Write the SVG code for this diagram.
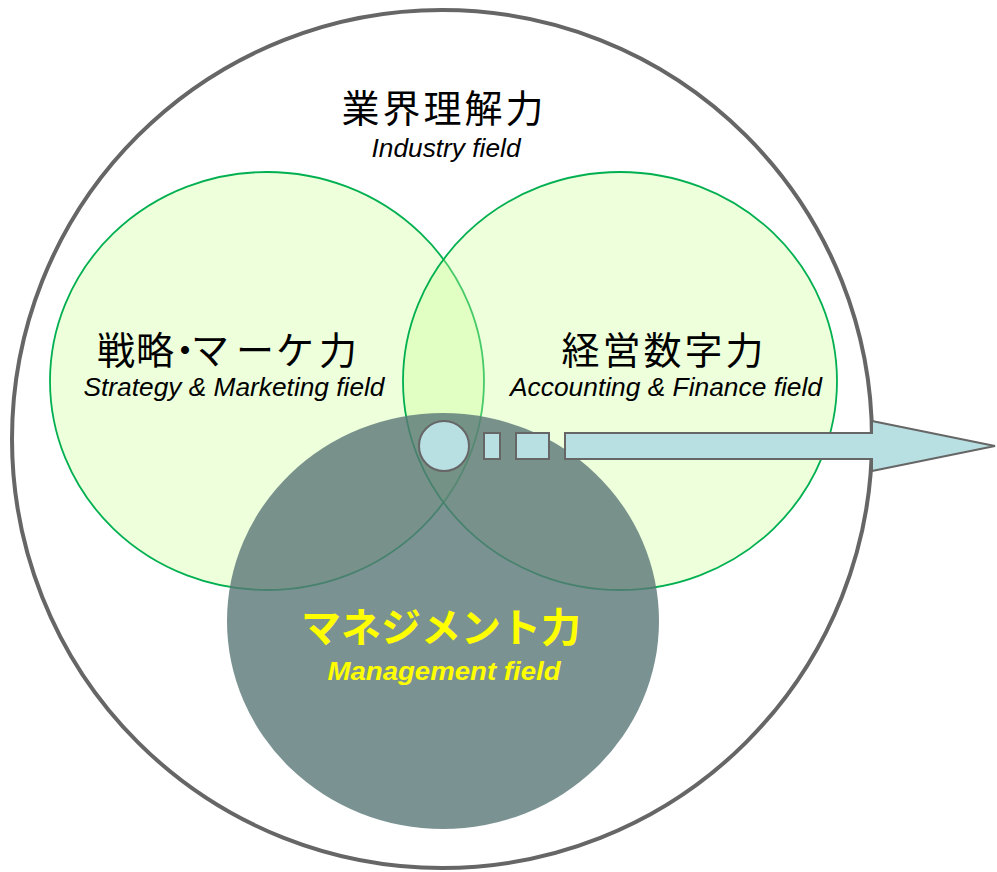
<svg xmlns="http://www.w3.org/2000/svg" width="997" height="872" viewBox="0 0 997 872">
<style>
.field{fill:#CCFF99;fill-opacity:0.35;stroke:#00B050;stroke-width:1.8}
.jp{font-family:"Noto Sans CJK JP","Noto Sans",sans-serif;text-anchor:middle;fill:#000}
.en{font-family:"Liberation Sans",Arial,sans-serif;font-style:italic;text-anchor:middle;fill:#000}
.yl{fill:#FFFF00;font-weight:bold}
.blue{fill:#B8DFE2;stroke:#666;stroke-width:2}
</style>
<rect width="997" height="872" fill="#fff"/>
<g id="industry">
<ellipse cx="442" cy="439" rx="430" ry="429" fill="#fff" stroke="#666" stroke-width="4"/>
<text class="jp" x="444" y="122" font-size="38" letter-spacing="3">業界理解力</text>
<text class="en" x="446" y="157" font-size="26" textLength="149" lengthAdjust="spacingAndGlyphs">Industry field</text>
</g>
<g id="strategy">
<ellipse class="field" cx="267" cy="381" rx="217" ry="209"/>
</g>
<g id="accounting">
<ellipse class="field" cx="620" cy="381" rx="217" ry="209"/>
</g>
<g id="management">
<ellipse cx="443" cy="621" rx="216" ry="208" fill="#5A7777" fill-opacity="0.8"/>
</g>
<g id="connectors">
<ellipse class="blue" cx="444" cy="446" rx="25" ry="25"/>
<rect class="blue" x="484" y="433" width="16" height="26"/>
<rect class="blue" x="516" y="433" width="33" height="26"/>
<path class="blue" d="M565,433 H872 V421 L995,446 L872,471 V459 H565 Z"/>
</g>
<g id="labels">
<text class="jp" style="text-anchor:start" x="97 136 166 191 236 276 319" y="364" font-size="38">戦略・マーケ力</text>
<text class="en" x="234" y="396" font-size="25" textLength="301" lengthAdjust="spacingAndGlyphs">Strategy &amp; Marketing field</text>
<text class="jp" x="664" y="364" font-size="38" letter-spacing="3">経営数字力</text>
<text class="en" x="666" y="396" font-size="25" textLength="312" lengthAdjust="spacingAndGlyphs">Accounting &amp; Finance field</text>
<text class="jp yl" x="441" y="642" font-size="40">マネジメント力</text>
<text class="en yl" x="444" y="680" font-size="25" textLength="233" lengthAdjust="spacingAndGlyphs">Management field</text>
</g>
</svg>
